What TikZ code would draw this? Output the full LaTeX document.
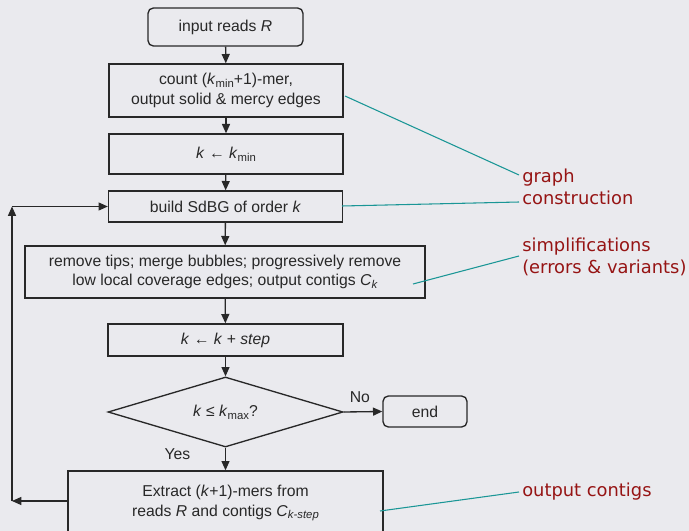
\documentclass[tikz,border=0pt]{standalone}
\usepackage{fontspec}
\setmainfont{Liberation Sans}
\newfontfamily\labelfont{DejaVu Sans}
\usetikzlibrary{shapes.geometric,arrows.meta}
\definecolor{bg}{RGB}{234,234,238}
\definecolor{ln}{RGB}{40,40,40}
\definecolor{teal2}{RGB}{26,150,150}
\definecolor{dred}{RGB}{150,20,20}
\tikzset{
  box/.style={draw=ln, line width=1pt, rectangle, inner sep=0pt, align=center,
    font=\fontsize{11.8}{15}\selectfont, text=ln},
  rbox/.style={box, rounded corners=4pt},
  arr/.style={draw=ln, line width=1pt, -{Triangle[length=7pt,width=6pt]}},
  lead/.style={draw=teal2, line width=0.8pt},
  lbl/.style={anchor=west, inner sep=0pt, align=left, text=dred,
    font=\labelfont\fontsize{13.4}{16.5}\selectfont},
  plain/.style={inner sep=0pt, text=ln, font=\fontsize{11.8}{15}\selectfont}
}
\newcommand{\ki}{\textit{k}}
\newcommand{\lsub}[1]{\raisebox{-0.35ex}{\fontsize{8.5}{9}\selectfont #1}}
\begin{document}
\begin{tikzpicture}[x=0.75pt,y=-0.75pt]
\fill[bg] (0,0) rectangle (689,531);
\useasboundingbox (0,0) rectangle (689,531);
\node[rbox, minimum width=116.25pt, minimum height=28.5pt] (inp) at (225.5,27) {input reads \textit{R}};
\node[box, minimum width=175.5pt, minimum height=39.75pt] (cnt) at (226,90.5) {count (\ki\lsub{min}+1)-mer,\\output solid \& mercy edges};
\node[box, minimum width=175.5pt, minimum height=30pt] (kmin) at (226,154) {\ki\ ← \ki\lsub{min}};
\node[box, minimum width=175.5pt, minimum height=23.25pt] (bld) at (225.5,206.5) {build SdBG of order \ki};
\node[box, minimum width=300pt, minimum height=39pt, font=\fontsize{11.8}{14.3}\selectfont] (rem) at (225,272) {remove tips; merge bubbles; progressively remove\\low local coverage edges; output contigs \textit{C}\lsub{\textit{k}}};
\node[box, minimum width=176.25pt, minimum height=24pt] (stp) at (225.5,340) {\ki\ ← \ki\ + \textit{step}};
\node[box, diamond, aspect=3.3, minimum width=176.25pt, minimum height=52.5pt] (dia) at (225.5,412) {\ki\ ≤ \ki\lsub{max}?};
\node[rbox, minimum width=63pt, minimum height=23.25pt] (end) at (425,411.5) {end};
\node[box, minimum width=236.25pt, minimum height=55.5pt] (ext) at (225.5,508) {};
\node[plain, align=center] (extt) at (225.5,503) {Extract (\ki+1)-mers from\\reads \textit{R} and contigs \textit{C}\lsub{\textit{k-step}}};

\draw[arr] (inp) -- (cnt);
\draw[arr] (cnt) -- (kmin);
\draw[arr] (kmin) -- (bld);
\draw[arr] (bld) -- (rem);
\draw[arr] (rem) -- (stp);
\draw[arr] (stp) -- (dia);
\draw[arr] (dia) -- (dia.south |- ext.north) node[plain, pos=0.3, left=26pt] (yes) {Yes};
\draw[arr] (dia.east) -- (end.west) node[plain, pos=0.42, above=6pt] (no) {No};

\coordinate (extL) at (68,501);
\coordinate (lp1) at (12,501);
\coordinate (lp2) at (12,206.5);
\draw[arr] (extL) -- (lp1);
\draw[arr] (lp1) -- (lp2);
\draw[arr] (lp2) -- (bld.west);

\node[lbl] (l1) at (522,187) {graph\\construction};
\node[lbl] (l2) at (522,256.5) {simplifications\\(errors \& variants)};
\node[lbl] (l3) at (522,492) {output contigs};
\coordinate (c1a) at (345,96);
\coordinate (c1b) at (519,175);
\coordinate (c2a) at (342,206);
\coordinate (c2b) at (519,202);
\coordinate (c3a) at (413,284);
\coordinate (c3b) at (519,256);
\coordinate (c4a) at (380,511);
\coordinate (c4b) at (519,492);
\draw[lead] (c1a) -- (c1b);
\draw[lead] (c2a) -- (c2b);
\draw[lead] (c3a) -- (c3b);
\draw[lead] (c4a) -- (c4b);
\end{tikzpicture}
\end{document}
